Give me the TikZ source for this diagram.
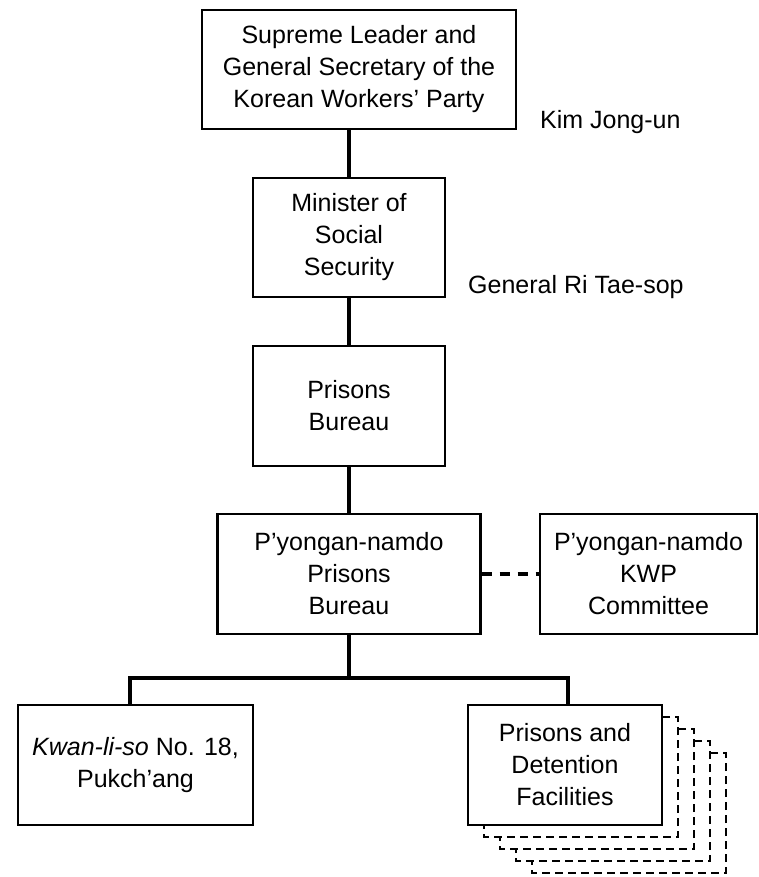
\documentclass[tikz,border=0pt]{standalone}
\usepackage{fontspec}
\setmainfont{Liberation Sans}
\begin{document}
\begin{tikzpicture}[x=1pt,y=-1pt,
  box/.style={draw,line width=2.2pt,fill=white,inner sep=0pt,align=center,
    font=\fontsize{25}{32}\selectfont},
  conn/.style={line width=4.5pt},
  dotconn/.style={line width=4pt,dash pattern=on 10pt off 8pt},
  stackbox/.style={draw,line width=2.2pt,fill=white,dash pattern=on 8pt off 5pt},
  lbl/.style={inner sep=0pt,anchor=base west,font=\fontsize{25}{32}\selectfont}]
\useasboundingbox (0,0) rectangle (759,877);

\node[box,minimum width=314pt,minimum height=119pt] (top) at (359,69.5)
  {Supreme Leader and\\General Secretary of the\\Korean Workers’ Party};
\node[box,minimum width=192pt,minimum height=119pt] (min) at (349,237.5)
  {Minister of\\Social\\Security};
\node[box,minimum width=192pt,minimum height=120pt] (pb) at (349,406)
  {Prisons\\Bureau};
\node[box,minimum width=263pt,minimum height=120pt] (pyb) at (349,574)
  {P’yongan-namdo\\Prisons\\Bureau};
\node[box,minimum width=217pt,minimum height=120pt] (kwp) at (648.5,574)
  {P’yongan-namdo\\KWP\\Committee};
\node[box,minimum width=235pt,minimum height=120pt] (kls) at (135.5,765)
  {\textit{Kwan-li-so} No. 18,\\Pukch’ang};

\foreach \i in {4,3,2,1}
  \draw[stackbox,shift={(16*\i,12*\i)}] (468,705) rectangle (662,825);

\node[box,minimum width=194pt,minimum height=120pt] (pdf) at (565,765)
  {Prisons and\\Detention\\Facilities};

\node[lbl] (kim) at (540,129) {Kim Jong-un};
\node[lbl] (ri) at (468,293) {General Ri Tae-sop};

\coordinate (bl) at (130,678);
\coordinate (br) at (568,678);

\draw[conn] (min.north |- top.south) -- (min.north);
\draw[conn] (min.south) -- (pb.north);
\draw[conn] (pb.south) -- (pyb.north);
\draw[conn] (pyb.south) -- (pyb.south |- bl);
\draw[conn] (kls.north -| bl) -- (bl) -- (br) -- (pdf.north -| br);
\draw[dotconn] (pyb.east) -- (kwp.west);
\end{tikzpicture}
\end{document}
